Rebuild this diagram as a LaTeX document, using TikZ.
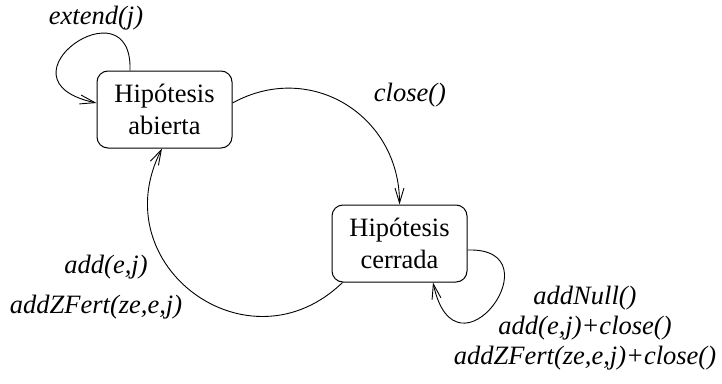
\documentclass[tikz,border=0pt]{standalone}
\usepackage{fontspec}
\setmainfont{Liberation Serif}
\usetikzlibrary{arrows.meta}
\begin{document}
\begin{tikzpicture}[x=1pt,y=-1pt,
  state/.style={draw, line width=1pt, rounded corners=11pt,
    minimum width=135pt, minimum height=77pt, inner sep=0pt,
    align=center, font=\fontsize{26.5}{32}\selectfont},
  lbl/.style={inner sep=0pt, align=center,
    font=\fontsize{26.5}{30}\selectfont\itshape},
  trans/.style={line width=0.9pt, -{Straight Barb[length=15pt,width=9pt]}}]
\useasboundingbox (0,0) rectangle (722,383);

% the two states
\node[state] (A) at (164.5,109.5) {Hipótesis\\abierta};
\node[state] (B) at (399.5,243.5) {Hipótesis\\cerrada};

% self loop on the open hypothesis
\draw[trans] ([xshift=-34.5pt]A.north) .. controls +(3,-91) and +(-107,-23) .. ([yshift=6.5pt]A.west);
% open -> closed
\draw[trans] ([yshift=6.5pt]A.east) .. controls +(78,-43) and +(0,-89) .. (B.north);
% closed -> open
\draw[trans] ([xshift=11pt]B.south west) .. controls +(-94,91) and +(-60,117) .. ([xshift=-2.5pt]A.south);
% self loop on the closed hypothesis
\draw[trans] ([yshift=-6.5pt]B.east) .. controls +(91,-3) and +(23,107) .. ([xshift=33.5pt]B.south);

% transition labels
\node[lbl] (lextend) at (96,18) {extend(j)};
\node[lbl] (lclose) at (410,95) {close()};
\node[lbl] (ladd) at (106,267) {add(e,j)};
\node[lbl] (lzfert) at (96,307) {addZFert(ze,e,j)};
\node[lbl] (lloop) at (585,328) {addNull()\\add(e,j)+close()\\addZFert(ze,e,j)+close()};
\end{tikzpicture}
\end{document}
